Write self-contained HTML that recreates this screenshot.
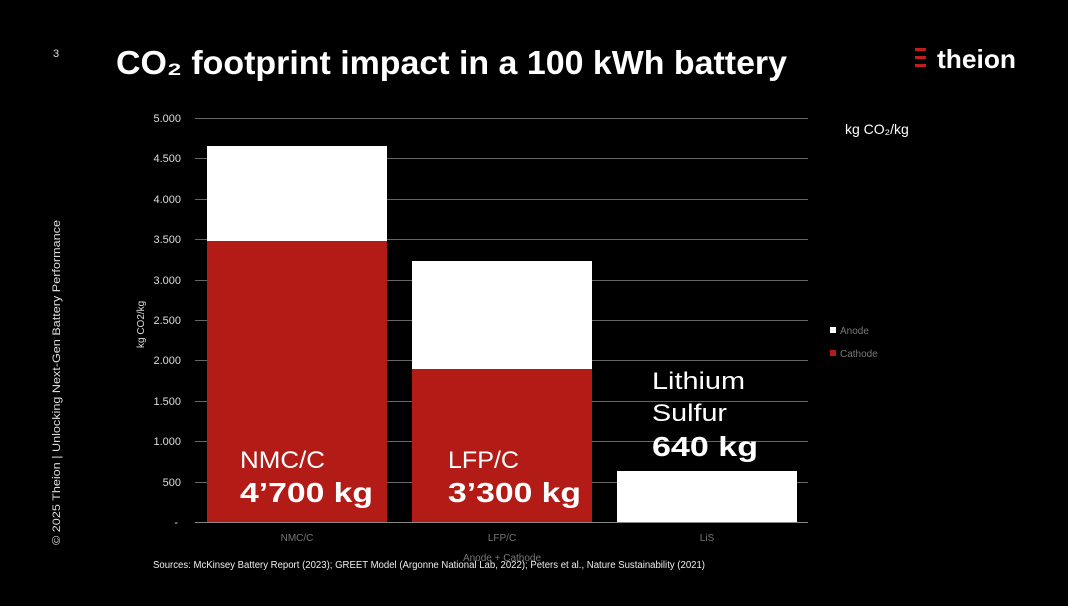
<!DOCTYPE html>
<html><head><meta charset="utf-8"><style>
body{margin:0;background:#000;width:1068px;height:601px;overflow:hidden;font-family:"Liberation Sans",sans-serif;color:#fff}
</style></head><body>
<svg width="1068" height="601" xmlns="http://www.w3.org/2000/svg" font-family="Liberation Sans, sans-serif">
<rect width="1068" height="601" fill="#000"/>
<text x="53" y="57" font-size="11" fill="#ddd">3</text>
<text x="116" y="74" font-size="33" font-weight="bold" fill="#fff" textLength="671" lengthAdjust="spacingAndGlyphs">CO₂ footprint impact in a 100 kWh battery</text>
<g fill="#c0201c"><rect x="915" y="48" width="11" height="3"/><rect x="915" y="56" width="11" height="3"/><rect x="915" y="64" width="11" height="3"/></g>
<text x="937" y="68" font-size="26" font-weight="bold" fill="#fff" textLength="79" lengthAdjust="spacingAndGlyphs">theion</text>
<text transform="translate(60,545) rotate(-90)" font-size="11" fill="#ddd" textLength="325" lengthAdjust="spacingAndGlyphs">© 2025 Theion  |  Unlocking Next-Gen Battery Performance</text>
<g stroke="#666" stroke-width="1">
<line x1="195" x2="808" y1="118.5" y2="118.5"/><line x1="195" x2="808" y1="158.5" y2="158.5"/><line x1="195" x2="808" y1="199.5" y2="199.5"/><line x1="195" x2="808" y1="239.5" y2="239.5"/><line x1="195" x2="808" y1="280.5" y2="280.5"/><line x1="195" x2="808" y1="320.5" y2="320.5"/><line x1="195" x2="808" y1="360.5" y2="360.5"/><line x1="195" x2="808" y1="401.5" y2="401.5"/><line x1="195" x2="808" y1="441.5" y2="441.5"/><line x1="195" x2="808" y1="482.5" y2="482.5"/>
</g>
<g font-size="11" fill="#ddd" text-anchor="end">
<text x="181" y="122">5.000</text><text x="181" y="162">4.500</text><text x="181" y="203">4.000</text><text x="181" y="243">3.500</text><text x="181" y="284">3.000</text><text x="181" y="324">2.500</text><text x="181" y="364">2.000</text><text x="181" y="405">1.500</text><text x="181" y="445">1.000</text><text x="181" y="486">500</text><text x="178" y="526">-</text>
</g>
<text transform="translate(144,348) rotate(-90)" font-size="10" fill="#ddd">kg CO2/kg</text>
<rect x="207" y="146" width="180" height="95" fill="#fff"/><rect x="207" y="241" width="180" height="281" fill="#b31b17"/>
<rect x="412" y="261" width="180" height="108" fill="#fff"/><rect x="412" y="369" width="180" height="153" fill="#b31b17"/>
<rect x="617" y="471" width="180" height="51" fill="#fff"/>
<line x1="195" x2="808" y1="522.5" y2="522.5" stroke="#888"/>
<g font-size="10" fill="#777" text-anchor="middle"><text x="297" y="541">NMC/C</text><text x="502" y="541">LFP/C</text><text x="707" y="541">LiS</text><text x="502" y="561">Anode + Cathode</text></g>
<text x="153" y="568" font-size="10" fill="#eee" textLength="552" lengthAdjust="spacingAndGlyphs">Sources: McKinsey Battery Report (2023); GREET Model (Argonne National Lab, 2022); Peters et al., Nature Sustainability (2021)</text>
<text x="240" y="468" font-size="24" fill="#fff" textLength="85" lengthAdjust="spacingAndGlyphs">NMC/C</text><text x="240" y="502" font-size="28" font-weight="bold" fill="#fff" textLength="133" lengthAdjust="spacingAndGlyphs">4’700 kg</text>
<text x="448" y="468" font-size="24" fill="#fff" textLength="71" lengthAdjust="spacingAndGlyphs">LFP/C</text><text x="448" y="502" font-size="28" font-weight="bold" fill="#fff" textLength="133" lengthAdjust="spacingAndGlyphs">3’300 kg</text>
<text x="652" y="389" font-size="24" fill="#fff" textLength="93" lengthAdjust="spacingAndGlyphs">Lithium</text><text x="652" y="421" font-size="24" fill="#fff" textLength="75" lengthAdjust="spacingAndGlyphs">Sulfur</text><text x="652" y="456" font-size="28" font-weight="bold" fill="#fff" textLength="106" lengthAdjust="spacingAndGlyphs">640 kg</text>
<text x="845" y="134" font-size="14" fill="#fff">kg CO₂/kg</text>
<rect x="830" y="327" width="6" height="6" fill="#fff"/><text x="840" y="334" font-size="10" fill="#777">Anode</text>
<rect x="830" y="350" width="6" height="6" fill="#b31b17"/><text x="840" y="357" font-size="10" fill="#777">Cathode</text>
</svg>
</body></html>
